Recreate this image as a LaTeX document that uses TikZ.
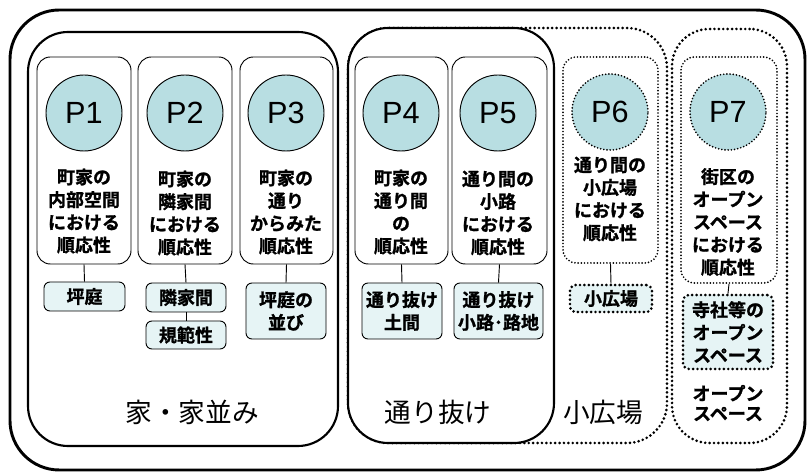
\documentclass[tikz,border=0pt]{standalone}
\usepackage{fontspec}
\newfontfamily\jp{Noto Sans CJK JP}[BoldFont={Noto Sans CJK JP Bold}, BoldFeatures={FakeBold=1.2}]
\newfontfamily\plab{Liberation Sans}
\usetikzlibrary{fit}
\definecolor{circfill}{HTML}{B8DEE2}
\definecolor{tagfill}{HTML}{E6F4F5}
\tikzset{
  dotline/.style={line width=2.2pt, line cap=round, dash pattern=on 0pt off 3.3pt},
  thindot/.style={line width=1.4pt, line cap=round, dash pattern=on 0pt off 2.4pt},
  grp/.style={draw, inner sep=0pt, line width=1.6pt, rounded corners=30pt},
  card/.style={draw, fill=white, inner sep=0pt, line width=0.7pt, rounded corners=10pt},
  pcirc/.style={circle, draw, fill=circfill, line width=0.7pt, minimum size=57pt, inner sep=0pt, font=\plab\fontsize{23}{25}\selectfont},
  ptext/.style={font=\jp\bfseries\fontsize{13.5}{17}\selectfont, align=center},
  tag/.style={draw, fill=tagfill, inner sep=0pt, line width=0.7pt, rounded corners=4.5pt},
  glabel/.style={font=\jp\fontsize{20}{22}\selectfont}
}

\begin{document}
\begin{tikzpicture}[x=0.75pt,y=-0.75pt]
\useasboundingbox (0,0) rectangle (808,473);

% frame and groups
\node[grp, line width=2.2pt, rounded corners=37pt, fit={(10,10) (805,470)}] (frame) {};
\node[grp, dotline, rounded corners=30pt, fit={(348,28) (667,443)}] (g3) {};
\node[grp, dotline, rounded corners=28pt, fit={(672,29) (787,443)}] (g4) {};
\node[grp, fill=white, fit={(28,32) (338,446)}] (g1) {};
\node[grp, fill=white, fit={(348,28) (554,443)}] (g2) {};

% cards
\node[card, fit={(37,57) (131,264)}] (c1) {};
\node[card, fit={(138,57) (232,264)}] (c2) {};
\node[card, fit={(240,57) (333,264)}] (c3) {};
\node[card, fit={(355,57) (448,264)}] (c4) {};
\node[card, fit={(452,57) (547,264)}] (c5) {};
\node[card, thindot, fit={(563,57) (658,263)}] (c6) {};
\node[card, thindot, fit={(681,57) (777,283)}] (c7) {};

% circles
\node[pcirc] (p1) at (84,113) {P1};
\node[pcirc] (p2) at (185,113) {P2};
\node[pcirc] (p3) at (286,113) {P3};
\node[pcirc] (p4) at (401,113) {P4};
\node[pcirc] (p5) at (498,113) {P5};
\node[pcirc, thindot] (p6) at (610,112) {P6};
\node[pcirc, thindot] (p7) at (728,112) {P7};

% card texts
\node[ptext] (t1) at (84,211) {町家の\\内部空間\\における\\順応性};
\node[ptext] (t2) at (185,213) {町家の\\隣家間\\における\\順応性};
\node[ptext] (t3) at (286,212) {町家の\\通り\\からみた\\順応性};
\node[ptext] (t4) at (401,212) {町家の\\通り間\\の\\順応性};
\node[ptext] (t5) at (498,213) {通り間の\\小路\\における\\順応性};
\node[ptext] (t6) at (610,199) {通り間の\\小広場\\における\\順応性};
\node[ptext] (t7) at (728,222) {街区の\\オープン\\スペース\\における\\順応性};

% tags
\node[tag, fit={(44,282) (125,311)}] (k1) {};
\node[ptext] at (k1) {坪庭};
\node[tag, fit={(146,283) (226,312)}] (k2) {};
\node[ptext] at (k2) {隣家間};
\node[tag, fit={(146,321) (226,349)}] (k2b) {};
\node[ptext] at (k2b) {規範性};
\node[tag, fit={(246,283) (326,339)}] (k3) {};
\node[ptext] at (k3) {坪庭の\\並び};
\node[tag, fit={(362,283) (442,339)}] (k4) {};
\node[ptext] at (k4) {通り抜け\\土間};
\node[tag, fit={(454,283) (543,339)}] (k5) {};
\node[ptext] at (k5) {通り抜け\\小路･路地};
\node[tag, dotline, fit={(570,285) (652,312)}] (k6) {};
\node[ptext] at (k6) {小広場};
\node[tag, dotline, fit={(683,295) (773,369)}] (k7) {};
\node[ptext] at (k7) {寺社等の\\オープン\\スペース};

% connectors
\draw[line width=0.7pt] (c1.south) -- (k1.north);
\draw[line width=0.7pt] (c2.south) -- (k2.north);
\draw[line width=0.7pt] (k2.south) -- (k2b.north);
\draw[line width=0.7pt] (c3.south) -- (k3.north);
\draw[line width=0.7pt] (c4.south) -- (k4.north);
\draw[line width=0.7pt] (c5.south) -- (k5.north);
\draw[line width=0.7pt] (c6.south) -- (k6.north);
\draw[line width=0.7pt] (c7.south) -- (k7.north);

% group labels
\node[glabel] (l1) at (192,412) {家・家並み};
\node[glabel] (l2) at (438,412) {通り抜け};
\node[glabel] (l3) at (603,412) {小広場};
\node[ptext, font=\jp\bfseries\fontsize{13.5}{15}\selectfont] (l4) at (728,403) {オープン\\スペース};
\end{tikzpicture}
\end{document}
